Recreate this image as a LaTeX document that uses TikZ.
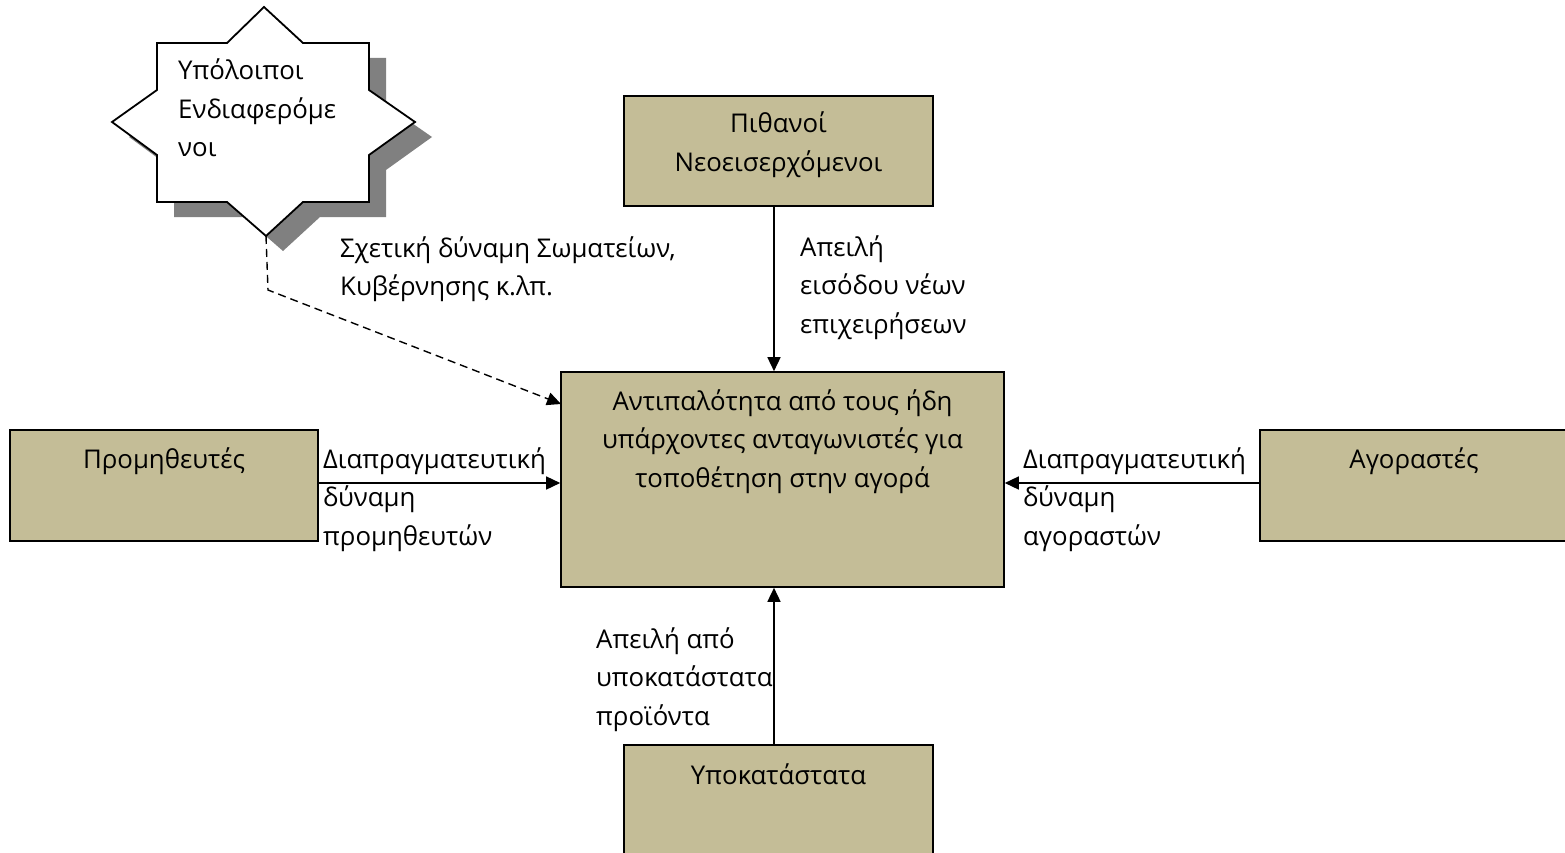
\documentclass[tikz,border=0pt]{standalone}
\usepackage{fontspec}
\setmainfont{Open Sans}
\usetikzlibrary{arrows.meta}
\definecolor{boxtan}{HTML}{C4BD97}
\definecolor{shadowgray}{HTML}{808080}
\begin{document}
\begin{tikzpicture}[x=1pt,y=-1pt,
  box/.style={draw=black, line width=1.6pt, fill=boxtan, inner sep=0pt},
  lbl/.style={font=\fontsize{25.8}{38.5}\selectfont, inner sep=0pt, align=left, anchor=base west},
  ctr/.style={font=\fontsize{25.8}{38.5}\selectfont, inner sep=0pt, align=center, anchor=base},
  arr/.style={line width=1.5pt, -{Triangle[length=14pt,width=13pt]}}]
\useasboundingbox (0,0) rectangle (1565,853);
% star with shadow
\fill[shadowgray, shift={(17,15)}] (264,7) -- (303,43) -- (369,43) -- (369,90) -- (415,122) -- (369,155) -- (369,202) -- (303,202) -- (266,236) -- (227,202) -- (157,202) -- (157,155) -- (112,122) -- (157,90) -- (157,43) -- (227,43) -- cycle;
\draw[fill=white, line width=1.8pt, line join=miter] (264,7) -- (303,43) -- (369,43) -- (369,90) -- (415,122) -- (369,155) -- (369,202) -- (303,202) -- (266,236) -- (227,202) -- (157,202) -- (157,155) -- (112,122) -- (157,90) -- (157,43) -- (227,43) -- cycle;
\coordinate (starb) at (266,236);
\coordinate (bend) at (268,290);
\node[lbl] (startext) at (178,157) {Υπόλοιποι\\Ενδιαφερόμε\\νοι};
% boxes
\node[box, minimum width=443pt, minimum height=215pt] (core) at (782.5,479.5) {};
\node[box, minimum width=308pt, minimum height=111pt] (sup) at (164,485.5) {};
\node[box, minimum width=308pt, minimum height=111pt] (buy) at (1414,485.5) {};
\node[box, minimum width=309pt, minimum height=110pt] (new) at (778.5,151) {};
\node[box, minimum width=309pt, minimum height=110pt] (sub) at (778.5,800) {};
% box texts
\node[ctr] (coretext) at (782.5,487) {Αντιπαλότητα από τους ήδη\\υπάρχοντες ανταγωνιστές για\\τοποθέτηση στην αγορά};
\node[ctr] (suptext) at (164,468) {Προμηθευτές};
\node[ctr] (buytext) at (1414,468) {Αγοραστές};
\node[ctr] (newtext) at (778.5,171.5) {Πιθανοί\\Νεοεισερχόμενοι};
\node[ctr] (subtext) at (778.5,784) {Υποκατάστατα};
% connectors
\coordinate (vx) at (774,0);
\coordinate (hy) at (0,483);
\coordinate (dend) at (561,404);
\draw[arr] (vx |- new.south) -- (vx |- core.north);
\draw[arr] (vx |- sub.north) -- (vx |- core.south);
\draw[arr] (sup.east |- hy) -- (core.west |- hy);
\draw[arr] (buy.west |- hy) -- (core.east |- hy);
\draw[arr, line width=1.4pt, dash pattern=on 8pt off 5pt] (starb) -- (bend) -- (dend);
% labels
\node[lbl] (dashlbl) at (340,295.5) {Σχετική δύναμη Σωματείων,\\Κυβέρνησης κ.λπ.};
\node[lbl] (newlbl) at (800,333) {Απειλή\\εισόδου νέων\\επιχειρήσεων};
\node[lbl] (suplbl) at (323,545) {Διαπραγματευτική\\δύναμη\\προμηθευτών};
\node[lbl] (buylbl) at (1023,545) {Διαπραγματευτική\\δύναμη\\αγοραστών};
\node[lbl] (sublbl) at (596,725) {Απειλή από\\υποκατάστατα\\προϊόντα};
\end{tikzpicture}
\end{document}
